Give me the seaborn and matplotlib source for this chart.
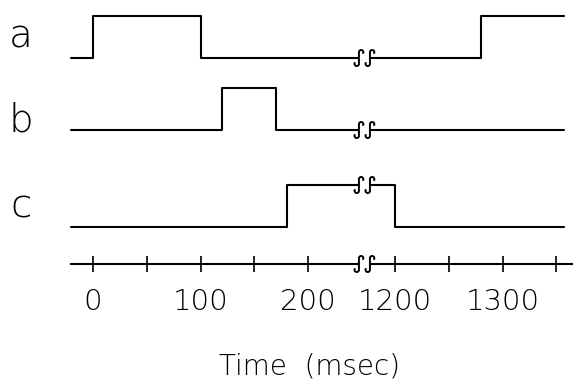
import numpy as np
import pandas as pd
import seaborn as sns
import matplotlib.pyplot as plt
from matplotlib.patches import Rectangle

# Trace edges (msec) and on/off state after each edge
a_times = [-20, 0, 100, 1280, 1357]
a_state = [0, 1, 0, 1, 1]
b_times = [-20, 120, 170, 1357]
b_state = [0, 1, 0, 0]
c_times = [-20, 180, 1200, 1357]
c_state = [0, 1, 0, 0]

trace_names = ['a', 'b', 'c']
major_ticks = [0, 100, 200, 1200, 1300]
minor_ticks = [50, 150, 1250, 1350]

# layout (vertical positions in pixels from the top)
base_y = {'a': 58, 'b': 130, 'c': 227}
letter_y = {'a': 47, 'b': 132, 'c': 217}
amp = 42
axis_y = 264
gap_shift = 919      # msec removed at the axis break
break_u = 252.5      # centre of the break on the compressed axis
px = 1.075           # pixels per msec


def compress(t):
    t = np.asarray(t, dtype=float)
    return np.where(t < 600, t, t - gap_shift)


def squiggle(ax, xc, yc, h=8.0, r=2.2):
    # integral-sign shaped break mark, sizes in pixels (y grows downward)
    top = np.linspace(np.radians(-25), np.pi, 20)
    x1 = (r + r * np.cos(top)) / px
    y1 = -(h - r) - r * np.sin(top)
    x2 = np.zeros(2)
    y2 = np.array([-(h - r), h - r])
    bot = np.linspace(0, np.radians(-205), 20)
    x3 = (-r + r * np.cos(bot)) / px
    y3 = (h - r) - r * np.sin(bot)
    xs = np.concatenate([x1, x2, x3]) + xc
    ys = np.concatenate([y1, y2, y3]) + yc
    ax.plot(xs, ys, color='black', lw=1.4, zorder=6, solid_capstyle='round')


def break_mark(ax, yc):
    w1 = break_u - 5.5 / px
    w2 = break_u + 5.5 / px
    ax.add_patch(Rectangle((w1, yc - 3), w2 - w1, 6, facecolor='white',
                           edgecolor='none', zorder=5))
    squiggle(ax, w1, yc)
    squiggle(ax, w2, yc)


rows = []
for name, times, state in [('a', a_times, a_state),
                           ('b', b_times, b_state),
                           ('c', c_times, c_state)]:
    for t, s in zip(times, state):
        rows.append({'trace': name, 'u': float(compress(t)),
                     'y': base_y[name] - amp * s, 'state': s})
df = pd.DataFrame(rows)

sns.set_style('white')
plt.rcParams['font.family'] = ['DejaVu Sans']
plt.rcParams['text.color'] = 'black'

fig = plt.figure(figsize=(5.76, 3.83), dpi=100)
ax = fig.add_axes([0, 0, 1, 1])

sns.lineplot(data=df, x='u', y='y', units='trace', estimator=None,
             color='black', linewidth=1.5, drawstyle='steps-post',
             sort=False, ax=ax, legend=False)

ax.set_xlim((0 - 93) / px, (576 - 93) / px)
ax.set_ylim(383, 0)

# time axis drawn as the bottom spine
for side in ['left', 'top', 'right']:
    ax.spines[side].set_visible(False)
ax.spines['bottom'].set_position(('data', axis_y))
ax.spines['bottom'].set_bounds(-20.5, 446)
ax.spines['bottom'].set_linewidth(1.5)
ax.spines['bottom'].set_color('black')
ax.set_yticks([])
ax.set_xticks(compress(major_ticks))
ax.set_xticklabels([str(t) for t in major_ticks])
ax.set_xticks(compress(minor_ticks), minor=True)
ax.tick_params(axis='x', which='both', direction='inout', length=12,
               width=1.2, color='black', bottom=True)
ax.tick_params(axis='x', which='major', labelsize=21, pad=11.5,
               labelcolor='black')
ax.set_xlabel('')
ax.set_ylabel('')
for lab in ax.get_xticklabels():
    lab.set_fontweight('light')

# break marks on each trace at the gap, plus on the axis
for name in trace_names:
    sub = df[df.trace == name]
    level = sub[sub.u <= break_u].y.iloc[-1]
    break_mark(ax, level)
break_mark(ax, axis_y)

# trace letters
for name in trace_names:
    ax.text(-67, letter_y[name], name, fontsize=28, ha='center',
            va='baseline', color='black', fontweight='light')

ax.text(201, 375, 'Time  (msec)', fontsize=20, ha='center', va='baseline',
        color='black', fontweight='light')

fig.savefig('out.png', dpi=100)
